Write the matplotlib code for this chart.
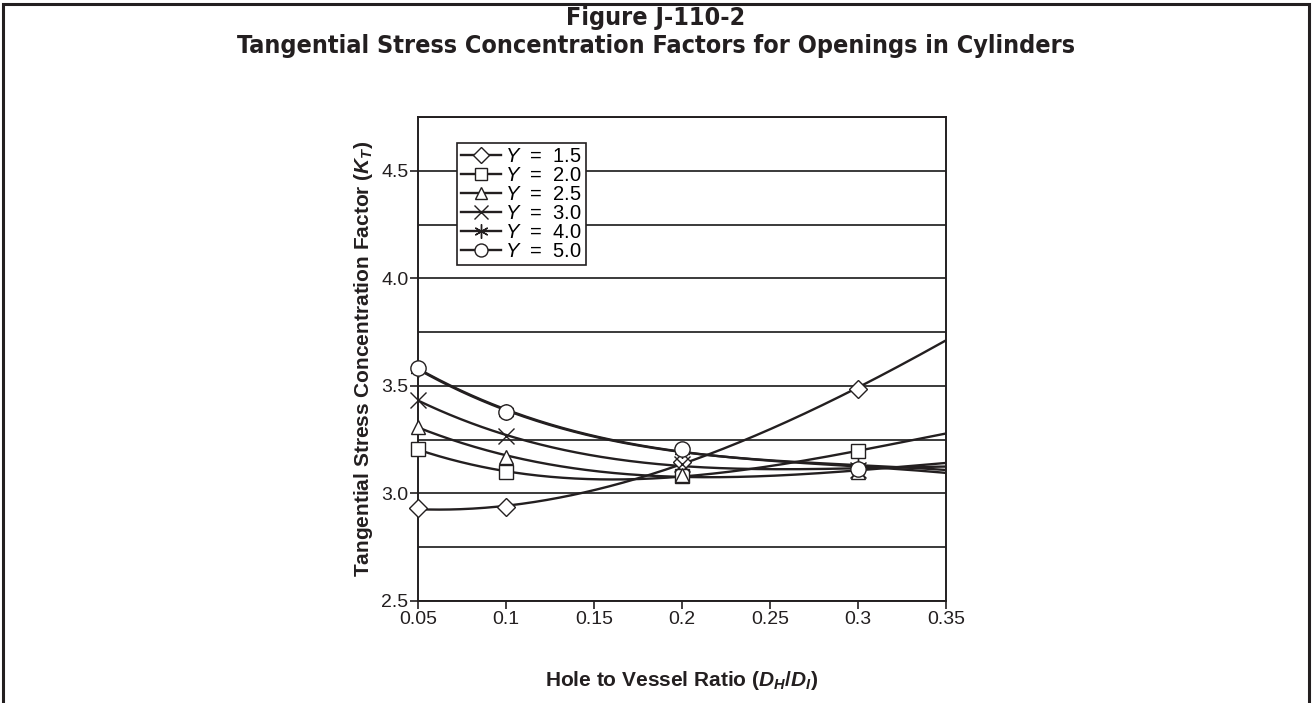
import numpy as np
import matplotlib
matplotlib.use("Agg")
import matplotlib.pyplot as plt
from matplotlib.patches import Rectangle
from matplotlib.ticker import MultipleLocator, FixedLocator

plt.rcParams['font.family'] = ['Liberation Sans', 'DejaVu Sans']
plt.rcParams['mathtext.fontset'] = 'custom'
plt.rcParams['mathtext.rm'] = 'Liberation Sans'
plt.rcParams['mathtext.it'] = 'Liberation Sans:italic'
plt.rcParams['mathtext.bf'] = 'Liberation Sans:bold:italic'

INK = '#231f20'

# hole to vessel ratio at the marked points, and where the curves end
ratio = [0.05, 0.1, 0.2, 0.3]
ratio_end = 0.35

# tangential stress concentration factor K_T for each Y
kt_y15 = [2.93, 2.935, 3.145, 3.485]
kt_y20 = [3.205, 3.10, 3.082, 3.195]
kt_y25 = [3.31, 3.17, 3.085, 3.10]
kt_y30 = [3.435, 3.265, 3.135, 3.11]
kt_y40 = [3.58, 3.38, 3.20, 3.125]
kt_y50 = [3.585, 3.38, 3.205, 3.115]
# curve values at the right edge (no marker there)
kt_end = [3.715, 3.28, 3.145, 3.128, 3.112, 3.10]

y_labels = ['1.5', '2.0', '2.5', '3.0', '4.0', '5.0']
markers = ['D', 's', '^', 'x', (6, 2, 0), 'o']
marker_sizes = [9, 10, 10, 12, 12, 11]

x_ticks = [0.05, 0.1, 0.15, 0.2, 0.25, 0.3, 0.35]
x_tick_labels = ['0.05', '0.1', '0.15', '0.2', '0.25', '0.3', '0.35']
y_ticks = [2.5, 3.0, 3.5, 4.0, 4.5]
y_tick_labels = ['2.5', '3.0', '3.5', '4.0', '4.5']

series = [kt_y15, kt_y20, kt_y25, kt_y30, kt_y40, kt_y50]

fig = plt.figure(figsize=(13.12, 7.03), dpi=100)
ax = fig.add_axes([0.3186, 0.1451, 0.4024, 0.6885])

# page frame
fig.patches.append(Rectangle((0.0025, -0.02), 0.995, 1.0145, transform=fig.transFigure,
                             fill=False, edgecolor=INK, linewidth=2.2, zorder=0))

xs = np.linspace(0.05, 0.35, 300)
for vals, end, lab, mk, ms in zip(series, kt_end, y_labels, markers, marker_sizes):
    # third order trendline over the points and the edge value
    px = ratio + [ratio_end]
    py = vals + [end]
    coef = np.polyfit(px, py, 3)
    ax.plot(xs, np.polyval(coef, xs), color=INK, lw=1.7, zorder=3)
    ax.plot(ratio, vals, linestyle='none', marker=mk, markersize=ms,
            markerfacecolor='white', markeredgecolor=INK, markeredgewidth=1.0,
            zorder=4, clip_on=False)
    ax.plot([], [], color=INK, lw=1.7, marker=mk, markersize=ms * 0.85,
            markerfacecolor='white', markeredgecolor=INK, markeredgewidth=1.0,
            label=r'$Y$  =  ' + lab)

ax.set_xlim(0.05, 0.35)
ax.set_ylim(2.5, 4.75)
ax.xaxis.set_major_locator(FixedLocator(x_ticks))
ax.set_xticklabels(x_tick_labels)
ax.yaxis.set_major_locator(FixedLocator(y_ticks))
ax.set_yticklabels(y_tick_labels)
ax.yaxis.set_minor_locator(MultipleLocator(0.25))
ax.tick_params(axis='both', which='major', direction='out', length=6, width=1.2,
               colors=INK, labelsize=14, pad=1)
ax.tick_params(axis='y', which='minor', length=0)
ax.grid(axis='y', which='both', color='#3a3a3a', linewidth=1.4)
ax.set_axisbelow(True)
for sp in ax.spines.values():
    sp.set_color(INK)
    sp.set_linewidth(1.4)

ax.set_xlabel(r'Hole to Vessel Ratio ($\mathbf{D_H}$/$\mathbf{D_I}$)', fontsize=15,
              fontweight='bold', color=INK, labelpad=30)
ax.set_ylabel(r'Tangential Stress Concentration Factor ($\mathbf{K_T}$)', fontsize=15,
              fontweight='bold', color=INK, labelpad=4)

leg = ax.legend(loc='upper left', bbox_to_anchor=(0.074, 0.947), fontsize=14.5,
                frameon=True, fancybox=False, edgecolor=INK, framealpha=1,
                handlelength=2.0, handletextpad=0.2, labelspacing=0.0,
                borderpad=0.2, borderaxespad=0)
leg.get_frame().set_linewidth(1.2)
leg.set_zorder(5)

fig.text(0.5, 0.974, 'Figure J-110-2', ha='center', va='center', fontsize=18,
         fontweight='bold', family='DejaVu Sans', stretch='condensed', color=INK)
fig.text(0.5, 0.935, 'Tangential Stress Concentration Factors for Openings in Cylinders',
         ha='center', va='center', fontsize=18, fontweight='bold', family='DejaVu Sans',
         stretch='condensed', color=INK)

fig.savefig('out.png', dpi=100)
